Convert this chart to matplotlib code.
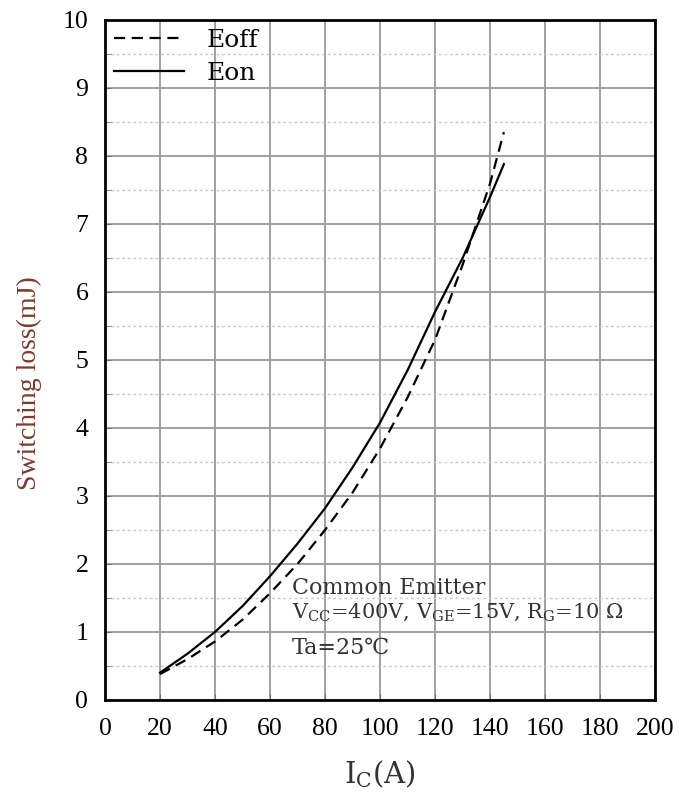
import matplotlib.pyplot as plt
from matplotlib.ticker import MultipleLocator

# Collector current (A) and switching losses (mJ)
ic = [20, 30, 40, 50, 60, 70, 80, 90, 100, 110, 120, 130, 140, 145]
eoff = [0.38, 0.60, 0.86, 1.18, 1.57, 2.00, 2.50, 3.05, 3.70, 4.45, 5.30, 6.40, 7.60, 8.35]
eon = [0.40, 0.68, 1.00, 1.38, 1.82, 2.30, 2.82, 3.42, 4.08, 4.85, 5.71, 6.50, 7.40, 7.88]

xticks = [0, 20, 40, 60, 80, 100, 120, 140, 160, 180, 200]
yticks = [0, 1, 2, 3, 4, 5, 6, 7, 8, 9, 10]

plt.rcParams['font.family'] = ['Liberation Serif', 'DejaVu Serif']
plt.rcParams['mathtext.fontset'] = 'dejavuserif'
wide = ['DejaVu Serif']

fig = plt.figure(figsize=(7, 7.99), dpi=100)
ax = fig.add_axes([0.15, 0.124, 0.786, 0.851])

ax.plot(ic, eoff, color='black', lw=1.6, ls=(0, (5, 3)), label='Eoff')
ax.plot(ic, eon, color='black', lw=1.6, label='Eon')

ax.set_xlim(0, 200)
ax.set_ylim(0, 10)
ax.set_xticks(xticks, labels=[str(v) for v in xticks])
ax.set_yticks(yticks, labels=[str(v) for v in yticks])
ax.yaxis.set_minor_locator(MultipleLocator(0.5))
for lab in ax.get_xticklabels() + ax.get_yticklabels():
    lab.set_fontfamily(['Liberation Serif'])
    lab.set_fontsize(18.5)
ax.grid(which='major', color='#a0a0a0', lw=1.4)
ax.grid(which='minor', axis='y', color='#c8c8c8', lw=1.0, ls=(0, (2, 2)))
ax.set_axisbelow(True)
ax.tick_params(which='both', direction='in', length=4, color='#707070')
ax.tick_params(axis='x', pad=13)
ax.tick_params(axis='y', pad=12)
for s in ax.spines.values():
    s.set_linewidth(2)

ax.set_xlabel(r'$\mathregular{I_C}$(A)', fontsize=21, color='#333333',
              family=wide, labelpad=13)
ax.set_ylabel('Switching loss(mJ)', fontsize=20, color='#7a3b2e')
ax.yaxis.set_label_coords(-0.114, 0.466)

ax.legend(loc='upper left', frameon=False, handlelength=2.8,
          borderaxespad=0.1, borderpad=0.25, handletextpad=0.9,
          labelspacing=0.4, prop={'family': wide, 'size': 18})

tc = '#333333'
ax.text(68, 1.64, 'Common Emitter', fontsize=16, color=tc, va='center', family=wide)
ax.text(68, 1.29, r'V$_{\mathregular{CC}}$=400V, V$_{\mathregular{GE}}$=15V, R$_{\mathregular{G}}$=10 Ω',
        fontsize=15, color=tc, va='center', family=wide)
ax.text(68, 0.77, 'Ta=25℃', fontsize=16, color=tc, va='center', family=wide)

fig.savefig('out.png')
